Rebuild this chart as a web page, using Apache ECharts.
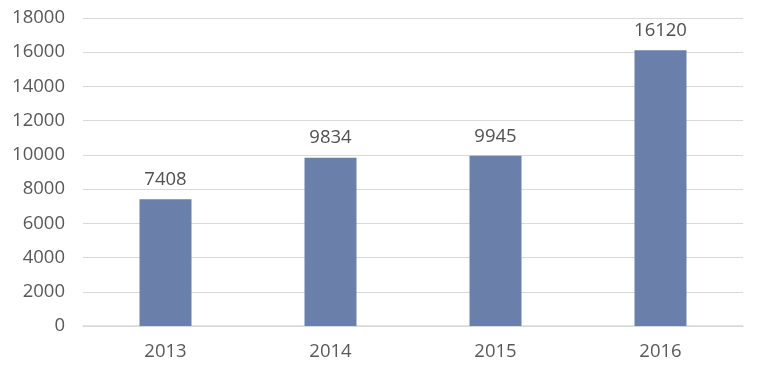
<!DOCTYPE html>
<html><head><meta charset="utf-8">
<script src="https://cdn.jsdelivr.net/npm/echarts@6/dist/echarts.min.js"></script>
<style>html,body{margin:0;padding:0;background:#fff}#c{width:757px;height:377px}</style>
</head><body><div id="c"></div>
<script>
const categories = ['2013', '2014', '2015', '2016'];
const values = [7408, 9834, 9945, 16120];

const chart = echarts.init(document.getElementById('c'));
const font = '"Open Sans", sans-serif';
chart.setOption({
  animation: false,
  grid: { left: 83, right: 14, top: 18, bottom: 51, containLabel: false },
  xAxis: {
    type: 'category', data: categories,
    axisLine: { lineStyle: { color: '#d9d9d9', width: 1.5 } },
    axisTick: { show: false },
    axisLabel: { color: '#595959', fontSize: 18.5, fontFamily: font, margin: 16 }
  },
  yAxis: {
    type: 'value', min: 0, max: 18000, interval: 2000,
    axisLine: { show: false }, axisTick: { show: false },
    splitLine: { lineStyle: { color: '#d9d9d9', width: 1 } },
    axisLabel: { color: '#595959', fontSize: 18.5, fontFamily: font, margin: 18, formatter: v => String(v) }
  },
  series: [{
    type: 'bar', data: values, barWidth: 52,
    itemStyle: { color: '#6a7fa9' },
    label: { show: true, position: 'top', distance: 10, color: '#505050', fontSize: 18.5, fontFamily: font }
  }]
});
</script></body></html>
